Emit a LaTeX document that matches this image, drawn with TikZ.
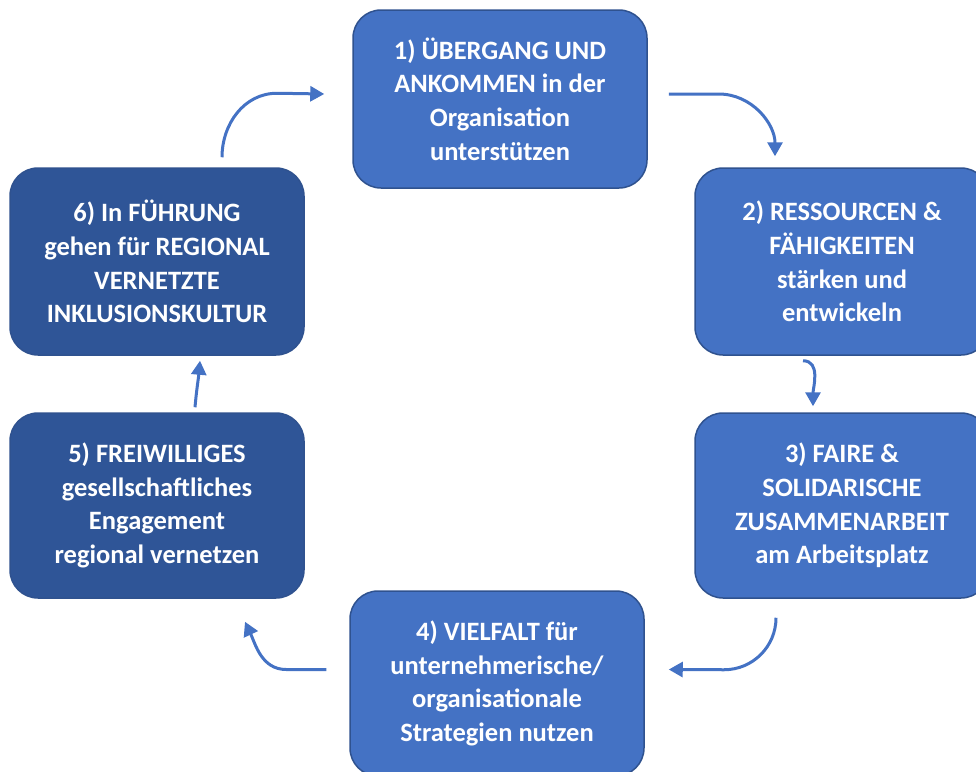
\documentclass[tikz,border=0pt]{standalone}
\usepackage{fontspec}
\setmainfont{Carlito}
\usetikzlibrary{arrows.meta}
\definecolor{boxblue}{HTML}{4472C4}
\definecolor{boxedge}{HTML}{2F528F}
\definecolor{darkblue}{HTML}{2F5597}
\begin{document}
\begin{tikzpicture}[x=1pt,y=-1pt,
    stage/.style={draw=boxedge,line width=1.5pt,fill=boxblue,rounded corners=28pt,
      minimum width=294pt,minimum height=185pt,align=center,text=white,
      font=\bfseries\fontsize{26.5}{33.7}\selectfont},
    darkstage/.style={stage,fill=darkblue},
    flow/.style={draw=boxblue,line width=3pt,-{Triangle[length=14pt,width=15pt]}}]
      \useasboundingbox (0,0) rectangle (976,771);
      % the six stages
      \node[stage,minimum height=178pt] (b1) at (500,99) {1) ÜBERGANG UND\\ANKOMMEN in der\\Organisation\\unterstützen};
      \node[stage,minimum height=187pt] (b2) at (842,261.5) {2) RESSOURCEN \&\\FÄHIGKEITEN\\stärken und\\entwickeln};
      \node[stage] (b3) at (842,505.5) {3) FAIRE \&\\SOLIDARISCHE\\ZUSAMMENARBEIT\\am Arbeitsplatz};
      \node[stage] (b4) at (497,683.5) {4) VIELFALT für\\unternehmerische/\\organisationale\\Strategien nutzen};
      \node[darkstage] (b5) at (157,505.5) {5) FREIWILLIGES\\gesellschaftliches\\Engagement\\regional vernetzen};
      \node[darkstage,minimum height=187pt] (b6) at (157,261.5) {6) In FÜHRUNG\\gehen für REGIONAL\\VERNETZTE\\INKLUSIONSKULTUR};
      % arrows round the cycle
      \draw[flow] ([shift={(21,-5)}]b1.east) -- ++(50,0) to[out=0,in=90] ([shift={(-67,-11)}]b2.north);
      \draw[flow] ([shift={(-39,5)}]b2.south) to[out=0,in=90] ([shift={(-29,-6)}]b3.north);
      \draw[flow] ([shift={(-66,19)}]b3.south) to[out=-90,in=0] ++(-52,52) -- ([shift={(24,-14)}]b4.east);
      \draw[flow] ([shift={(-23,-14)}]b4.west) -- ++(-40,0) to[out=180,in=-65] ([shift={(88,23)}]b5.south);
      \draw[flow] ([shift={(38,-5)}]b5.north) to[out=85,in=-95] ([shift={(43,5)}]b6.south);
      \draw[flow] ([shift={(65,-10)}]b6.north) to[out=90,in=180] ++(55,-64) -- ([shift={(-28,-5)}]b1.west);
    \end{tikzpicture}
\end{document}
